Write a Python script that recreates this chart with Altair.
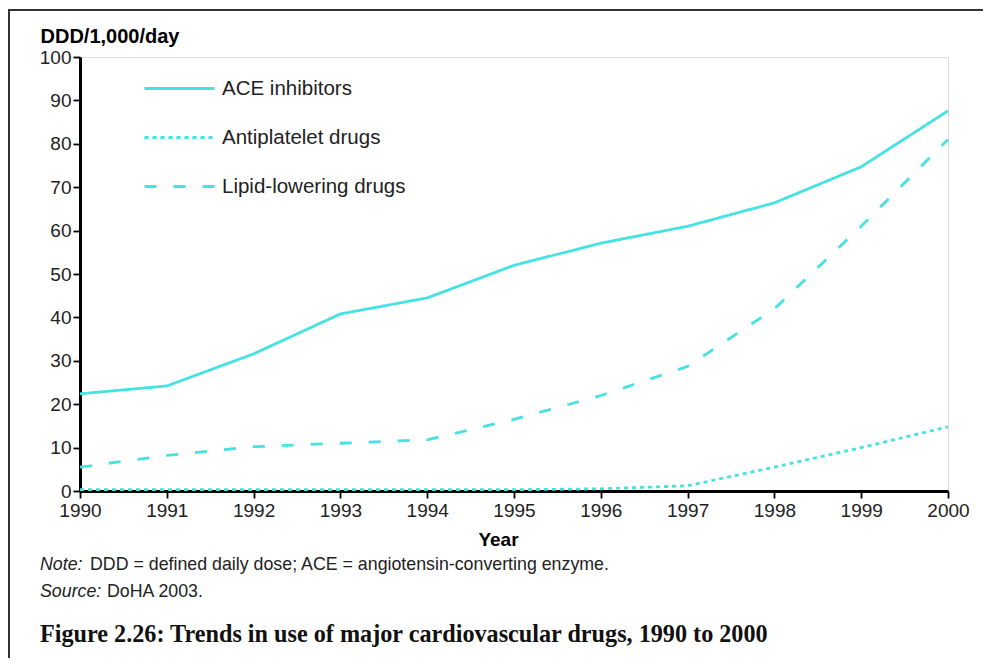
import altair as alt
import pandas as pd

years = [1990, 1991, 1992, 1993, 1994, 1995, 1996, 1997, 1998, 1999, 2000]
ace = [22.4, 24.2, 31.6, 40.8, 44.5, 52.0, 57.1, 61.0, 66.4, 74.7, 87.6]
antiplatelet = [0.3, 0.3, 0.3, 0.3, 0.3, 0.3, 0.5, 1.2, 5.5, 10.0, 14.8]
lipid = [5.5, 8.2, 10.2, 11.0, 11.8, 16.5, 22.0, 28.7, 42.0, 61.0, 81.0]
series_names = ["ACE inhibitors", "Antiplatelet drugs", "Lipid-lowering drugs"]
y_ticks = [0, 10, 20, 30, 40, 50, 60, 70, 80, 90, 100]

y_title = "DDD/1,000/day"
x_title = "Year"
note_label = "Note:"
note_text = "DDD = defined daily dose; ACE = angiotensin-converting enzyme."
source_label = "Source:"
source_text = "DoHA 2003."
caption = "Figure 2.26: Trends in use of major cardiovascular drugs, 1990 to 2000"

CYAN = "#45E2E4"
W, H = 868, 434
PAD_L, PAD_T = 72, 49
CANVAS_W, CANVAS_H = 975, 650

rows = []
for name, vals in zip(series_names, [ace, antiplatelet, lipid]):
    for yr, v in zip(years, vals):
        rows.append({"year": yr, "value": v, "series": name})
df = pd.DataFrame(rows)

lines = alt.Chart(df).mark_line(color=CYAN, strokeWidth=2.8).encode(
    x=alt.X("year:Q", scale=alt.Scale(domain=[1990, 2000], nice=False, zero=False),
            axis=alt.Axis(values=years, format="d", title=x_title, titleX=418, titleY=54,
                          titleBaseline="alphabetic", titleFontSize=19, titleFontWeight="bold",
                          titleFont="Liberation Sans", titleColor="black",
                          labelFontSize=19, labelFont="Liberation Sans", labelColor="#222",
                          tickSize=7, tickWidth=1.8, tickColor="black", labelPadding=3,
                          domainColor="black", domainWidth=3, grid=False, labelFlush=False,
                          labelOverlap=False)),
    y=alt.Y("value:Q", scale=alt.Scale(domain=[0, 100], nice=False),
            axis=alt.Axis(values=y_ticks, title=y_title, titleAngle=0, titleX=-40, titleY=-15,
                          titleAlign="left", titleBaseline="alphabetic", titleFontSize=20,
                          titleFontWeight="bold", titleFont="Liberation Sans", titleColor="black",
                          labelFontSize=19, labelFont="Liberation Sans", labelColor="#222",
                          tickSize=7, tickWidth=1.8, tickColor="black", labelPadding=2,
                          domainColor="black", domainWidth=3, grid=False, labelOverlap=False)),
    strokeDash=alt.StrokeDash("series:N",
        scale=alt.Scale(domain=series_names, range=[[1, 0], [4, 4], [12, 17]]),
        legend=alt.Legend(title=None, orient="none", legendX=63, legendY=-5,
                          symbolType="stroke", symbolSize=4900, symbolStrokeWidth=2.8,
                          symbolStrokeColor=CYAN, labelFontSize=20.5, labelFont="Liberation Sans",
                          labelColor="#222", labelOffset=6, rowPadding=2, labelLimit=400)),
)

def text_layer(txt, x, y, size, style="normal", weight="normal", font="Liberation Sans", color="#222"):
    return alt.Chart(pd.DataFrame({"t": [txt]})).mark_text(
        align="left", baseline="alphabetic", fontSize=size, fontStyle=style,
        fontWeight=weight, font=font, color=color
    ).encode(text="t:N", x=alt.value(x), y=alt.value(y))

texts = [
    text_layer(note_label, -40, 513, 17.8, style="italic"),
    text_layer(note_text, 10, 513, 17.8),
    text_layer(source_label, -40, 540, 17.8, style="italic"),
    text_layer(source_text, 27, 540, 17.8),
    text_layer(caption, -40, 585, 24.2, weight="bold", font="Liberation Serif", color="#111"),
]

frame_top = alt.Chart(pd.DataFrame({"a": [0]})).mark_rect(color="#333").encode(
    x=alt.value(-72), x2=alt.value(CANVAS_W - PAD_L), y=alt.value(-48), y2=alt.value(-46))
frame_left = alt.Chart(pd.DataFrame({"a": [0]})).mark_rect(color="#333").encode(
    x=alt.value(-72), x2=alt.value(-70), y=alt.value(-48), y2=alt.value(CANVAS_H - PAD_T))

chart = alt.layer(lines, *texts, frame_top, frame_left).properties(
    width=W, height=H,
    autosize=alt.AutoSizeParams(type="none"),
    padding={"left": PAD_L, "top": PAD_T, "right": CANVAS_W - PAD_L - W, "bottom": CANVAS_H - PAD_T - H},
).configure_view(stroke="black", strokeWidth=2.5).configure(background="white")

chart.save("out.html", embed_options={"renderer": "svg", "actions": False})
